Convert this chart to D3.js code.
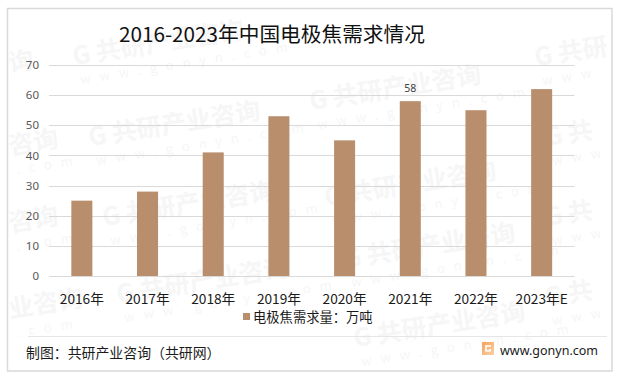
<!DOCTYPE html>
<html><head><meta charset="utf-8">
<script src="https://cdn.jsdelivr.net/npm/d3@7/dist/d3.min.js"></script>
<style>html,body{margin:0;padding:0;background:#fff}svg{display:block}text{font-family:"Noto Sans CJK SC","Noto Sans",sans-serif}</style>
</head><body><svg id="c" width="617" height="379"></svg>
<script>
const categories=["2016年","2017年","2018年","2019年","2020年","2021年","2022年","2023年E"];
const demand=[25,28,41,53,45,58,55,62];
const yTicks=[0,10,20,30,40,50,60,70];
const labelled=["2021年"];
const seriesName="电极焦需求量：万吨";
const titleText="2016-2023年中国电极焦需求情况";
const sourceText="制图：共研产业咨询（共研网）";
const siteText="www.gonyn.com";
const wmFull="G 共研产业咨询", wmSite="www.gonyn.com";
const wmBlocks=[[74,65,wmFull,wmSite],[90,146,wmFull,wmSite],[311,110,wmFull,wmSite],[104,226,wmFull,wmSite],[326,206,wmFull,wmSite],[118,303,wmFull,wmSite],[345,268,wmFull,wmSite],[355,347,wmFull,wmSite],
 [536,66,"G 共研","www"],[546,146,"G 共","www"],[546,226,"G 共","www"],[546,306,"G 共","www"],
 [10,72,"询",""],[10,155,"咨询",".com"],[10,232,"咨询",".com"],[10,318,"业咨询",".com"]];

const svg=d3.select("#c");
svg.append("rect").attr("x",7.5).attr("y",8.5).attr("width",604.5).attr("height",362.5).attr("fill","#fff").attr("stroke","#d9d9d9").attr("stroke-width",1.5);

const wm=svg.append("g");
wmBlocks.forEach(([px,py,name,site])=>{
  const g=wm.append("g").attr("transform",`translate(${px},${py}) rotate(-9)`);
  g.append("text").attr("x",0).attr("y",0).attr("font-size",25).attr("font-weight",700).attr("fill","#f6f6f6").text(name);
  if(site) g.append("text").attr("x",4).attr("y",20).attr("font-size",13).attr("letter-spacing",9).attr("fill","#f6f6f6").text(site);
});

const x=d3.scaleBand().domain(categories).range([49,574.5]).paddingInner(0.68).paddingOuter(0.34);
const y=d3.scaleLinear().domain([0,70]).range([276,65]);

svg.append("g").selectAll("line").data(yTicks).join("line")
 .attr("x1",49).attr("x2",574.5).attr("y1",d=>Math.round(y(d))+.5).attr("y2",d=>Math.round(y(d))+.5)
 .attr("stroke","#d9d9d9").attr("stroke-width",1);

const gy=svg.append("g").attr("transform","translate(39,0)").call(d3.axisLeft(y).tickValues(yTicks).tickSize(0).tickPadding(0));
gy.select(".domain").remove();
gy.selectAll("text").attr("font-size",11.5).attr("fill","#595959").style("font-family",'"Noto Sans","Open Sans",sans-serif');

svg.append("g").selectAll("rect").data(categories).join("rect")
 .attr("x",d=>x(d)).attr("width",x.bandwidth())
 .attr("y",(d,i)=>y(demand[i])).attr("height",(d,i)=>y(0)-y(demand[i]))
 .attr("fill","#b98e6d");

const gx=svg.append("g").attr("transform","translate(0,304)").call(d3.axisBottom(x).tickSize(0).tickPadding(0));
gx.select(".domain").remove();
gx.selectAll("text").attr("font-size",13.7).attr("fill","#1a1a1a").attr("dy",0).attr("y",0);

svg.append("g").selectAll("text").data(labelled).join("text")
 .attr("x",d=>x(d)+x.bandwidth()/2).attr("y",d=>y(demand[categories.indexOf(d)])-9)
 .attr("text-anchor","middle").attr("font-size",10.5).attr("fill","#404040")
 .style("font-family",'"Noto Sans",sans-serif').text(d=>demand[categories.indexOf(d)]);

svg.append("text").attr("x",119).attr("y",42).attr("font-size",20.7).attr("fill","#111").text(titleText);

svg.append("rect").attr("x",243).attr("y",313).attr("width",7).attr("height",7).attr("fill","#b98e6d");
svg.append("text").attr("x",253).attr("y",322).attr("font-size",13.3).attr("fill","#1a1a1a").text(seriesName);

svg.append("line").attr("x1",28).attr("x2",607).attr("y1",336.5).attr("y2",336.5).attr("stroke","#e6e6e6");
svg.append("text").attr("x",26).attr("y",357.5).attr("font-size",13.9).attr("fill","#1a1a1a").text(sourceText);

const lg=svg.append("defs").append("linearGradient").attr("id","logo").attr("x1",0).attr("y1",0).attr("x2",1).attr("y2",1);
lg.append("stop").attr("offset","0").attr("stop-color","#f6a15a");
lg.append("stop").attr("offset","1").attr("stop-color","#f7d3a8");
svg.append("rect").attr("x",482).attr("y",342).attr("width",12).attr("height",13).attr("fill","url(#logo)");
svg.append("path").attr("d","M491 346H486V351H490V349").attr("fill","none").attr("stroke","#fff").attr("stroke-width",1.6);
svg.append("text").attr("x",500).attr("y",355).attr("font-size",12.5).attr("fill","#1a1a1a").style("font-family",'"Noto Sans",sans-serif').text(siteText);
</script></body></html>
